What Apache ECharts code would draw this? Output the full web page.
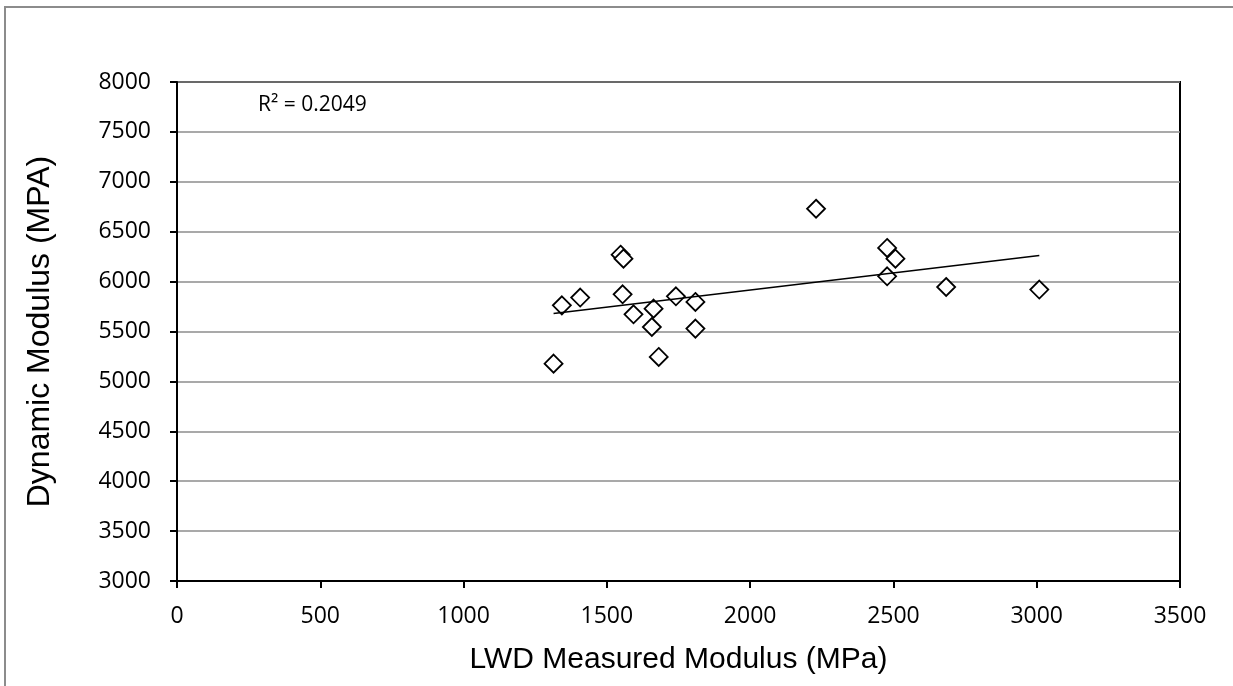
<!DOCTYPE html>
<html>
<head>
<meta charset="utf-8">
<script src="https://cdn.jsdelivr.net/npm/echarts@6/dist/echarts.min.js"></script>
<style>
  html, body { margin: 0; padding: 0; background: #fff; }
  #chart { width: 1233px; height: 686px; }
</style>
</head>
<body>
<div id="chart"></div>
<script>
// LWD measured modulus (MPa) vs dynamic modulus (MPA)
var lwdModulus = [1314, 1343, 1407, 1548, 1558, 1555, 1593, 1657, 1663, 1681,
                  1741, 1809, 1809, 2230, 2478, 2478, 2507, 2684, 3009];
var dynModulus = [5178, 5762, 5840, 6270, 6230, 5873, 5672, 5545, 5729, 5245,
                  5853, 5796, 5529, 6730, 6337, 6053, 6230, 5946, 5920];
var rSquaredText = 'R\u00b2 = 0.2049';

var points = lwdModulus.map(function (x, i) { return [x, dynModulus[i]]; });

// least squares trendline
var n = points.length, sx = 0, sy = 0, sxx = 0, sxy = 0;
points.forEach(function (p) { sx += p[0]; sy += p[1]; sxx += p[0] * p[0]; sxy += p[0] * p[1]; });
var slope = (n * sxy - sx * sy) / (n * sxx - sx * sx);
var intercept = (sy - slope * sx) / n;
var xMin = Math.min.apply(null, lwdModulus), xMax = Math.max.apply(null, lwdModulus);
var trend = [[xMin, intercept + slope * xMin], [xMax, intercept + slope * xMax]];

var tickFont = { color: '#000', fontSize: 23, fontFamily: 'Open Sans', formatter: function (v) { return String(v); } };

var myChart = echarts.init(document.getElementById('chart'));
myChart.setOption({
  backgroundColor: '#fff',
  animation: false,
  graphic: [
    { type: 'rect', shape: { x: 5, y: 7, width: 1240, height: 700 },
      style: { fill: 'none', stroke: '#8c8c8c', lineWidth: 2 }, z: -1 },
    { type: 'text', left: 258, top: 95,
      style: { text: rSquaredText, fill: '#000', fontSize: 21, fontFamily: 'Open Sans' } }
  ],
  grid: { left: 177, right: 53, top: 82, bottom: 105, show: true, borderColor: '#000', borderWidth: 2 },
  xAxis: {
    type: 'value', min: 0, max: 3500, interval: 500,
    name: 'LWD Measured Modulus (MPa)', nameLocation: 'middle', nameGap: 64,
    nameTextStyle: { color: '#000', fontSize: 30, fontFamily: 'Liberation Sans' },
    axisLine: { lineStyle: { color: '#000', width: 2 } },
    axisTick: { show: true, length: 7, lineStyle: { color: '#000', width: 2 } },
    axisLabel: Object.assign({ margin: 24 }, tickFont),
    splitLine: { show: false }
  },
  yAxis: {
    type: 'value', min: 3000, max: 8000, interval: 500,
    name: 'Dynamic Modulus (MPA)', nameLocation: 'middle', nameGap: 121,
    nameTextStyle: { color: '#000', fontSize: 32, fontFamily: 'Liberation Sans' },
    axisLine: { show: true, lineStyle: { color: '#000', width: 2 } },
    axisTick: { show: true, length: 7, lineStyle: { color: '#000', width: 2 } },
    axisLabel: Object.assign({ margin: 26 }, tickFont),
    splitLine: { show: true, lineStyle: { color: '#8c8c8c', width: 1.5 } }
  },
  series: [
    {
      type: 'scatter', data: points, symbol: 'diamond', symbolSize: 18,
      itemStyle: { color: '#fff', borderColor: '#000', borderWidth: 1.8, opacity: 1 },
      z: 3
    },
    {
      type: 'line', data: trend, symbol: 'none',
      lineStyle: { color: '#000', width: 1.5 }, z: 4
    }
  ]
});
</script>
</body>
</html>
